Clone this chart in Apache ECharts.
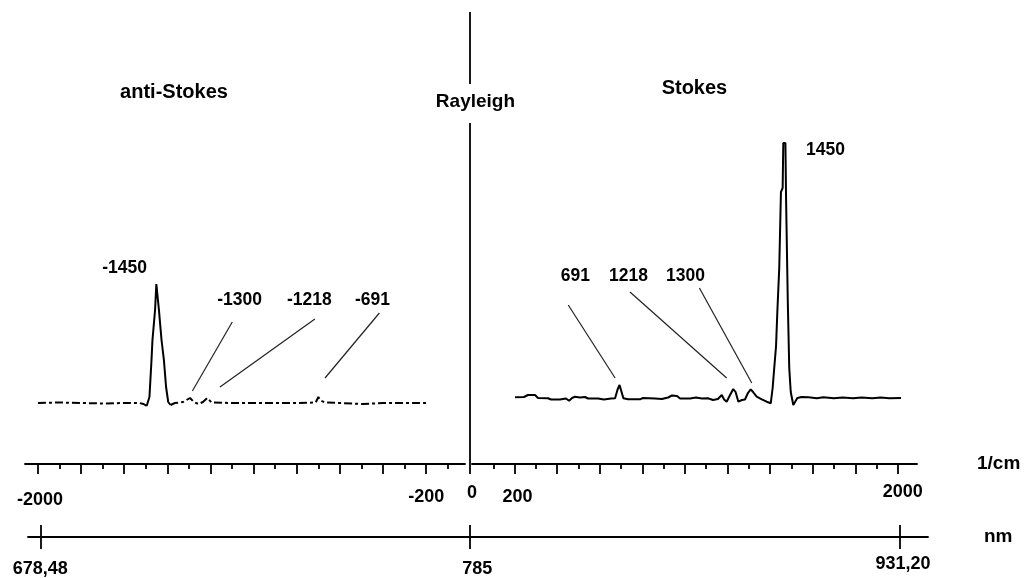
<!DOCTYPE html>
<html>
<head>
<meta charset="utf-8">
<title>Raman spectrum</title>
<script src="https://cdn.jsdelivr.net/npm/echarts@6/dist/echarts.min.js"></script>
<style>
    html, body { margin: 0; padding: 0; background: #fff; }
    #chart { width: 1030px; height: 578px; }
</style>
</head>
<body>
<div id="chart"></div>
<script>
// Raman shift (1/cm) and intensity (a.u.)
const antiStokesShift = [-2000, -1900, -1800, -1700, -1600, -1530, -1510, -1496, -1483, -1474,
    -1469, -1457, -1451, -1445, -1439, -1427, -1416, -1406, -1396, -1385,
    -1365, -1340, -1327, -1295, -1277, -1256, -1235, -1215, -1195, -1187,
    -1100, -1000, -900, -800, -712, -700, -690, -669, -600, -494, -400, -300, -200];
const antiStokesIntensity = [61, 61.5, 61, 60.5, 61, 61, 60, 58, 67, 102,
    124, 154, 180, 180, 154, 124, 104, 77, 62, 59,
    61, 61.5, 62, 66, 62, 60, 62, 66, 61.5, 61,
    61, 61, 61, 61, 61.5, 67, 63.5, 61.5, 61, 60, 61, 61, 61];

const stokesShift = [202, 244, 263, 296, 310, 357, 371, 413, 441, 456,
    470, 484, 507, 531, 545, 592, 620, 653, 672, 683,
    693, 700, 711, 733, 789, 803, 859, 892, 921, 939,
    963, 977, 1024, 1052, 1080, 1108, 1132, 1155, 1173, 1184,
    1196, 1212, 1227, 1238, 1251, 1268, 1282, 1296, 1309, 1320,
    1337, 1361, 1384, 1403, 1412, 1418, 1428, 1434, 1443, 1451,
    1459, 1462, 1472, 1475, 1483, 1490, 1497, 1509, 1528, 1548,
    1580, 1620, 1650, 1700, 1740, 1790, 1830, 1880, 1920, 1960, 2015];
const stokesIntensity = [66.7, 67, 69, 69, 66, 65.7, 64.5, 64.5, 65.5, 63.3,
    66, 67.3, 66.5, 67, 65.5, 65.5, 64.5, 65.5, 65.7, 74,
    79, 78, 65.7, 64.7, 64.7, 66, 65.5, 65, 66.5, 68.5,
    68, 65.5, 65.5, 66.5, 65.5, 65.7, 64, 65, 69, 64.5,
    62.3, 69, 75, 72, 62.3, 64, 64.5, 71, 74.7, 72,
    67.3, 64.7, 62.3, 60.7, 76, 92, 118, 152, 196, 272,
    276, 321, 321, 266, 164, 96, 72, 59, 66, 67,
    66.7, 65.7, 66.7, 65.7, 66.5, 65.7, 66.6, 65.8, 66.6, 65.8, 66];

// the big anti-Stokes band is drawn solid, the rest of that trace dash-dot
const antiStokesBand = [-1496, -1385];

// peak names, where their labels sit and the leader lines to the small peaks
const antiStokesPeaks = ['-1450', '-1300', '-1218', '-691'];
const antiStokesLabelAt = [[-1596, 195], [-1063, 163], [-739, 163], [-447, 163]];
const antiStokesLeaders = [
    [[-1099, 142], [-1284, 73]],
    [[-716, 145], [-1156, 77]],
    [[-417, 151], [-669, 86]]
];
const stokesPeaks = ['1450', '691', '1218', '1300'];
const stokesLabelAt = [[1663, 313], [488, 187], [737, 187], [1005, 187]];
const stokesLeaders = [
    [[452, 159], [672, 86]],
    [[742, 172], [1196, 86]],
    [[1068, 176], [1314, 81]]
];

// axis ticks (1/cm) and the matching wavelength labels
const leftMajorTicks = [-2000, -1800, -1600, -1400, -1200, -1000, -800, -600, -400, -200];
const leftMinorTicks = [-1900, -1700, -1500, -1300, -1100, -900, -700, -500, -300, -100];
const rightMajorTicks = [200, 400, 600, 800, 1000, 1200, 1400, 1600, 1800, 2000];
const rightMinorTicks = [100, 300, 500, 700, 900, 1100, 1300, 1500, 1700, 1900];
const leftShiftLabels = [-2000, -200];
const rightShiftLabels = [0, 200, 2000];
const nmTicks = [-2000, 0, 2000];
const nmLabels = ['678,48', '785', '931,20'];

// Rayleigh line (shift 0), broken where its caption sits
const rayleighLine = [[[0, 525], [0, 453]], [[0, 414], [0, 63]]];
const rayleighLabelAt = [27, 434.5];
const antiStokesTitleAt = [-1367, 371];
const stokesTitleAt = [1047, 375];

const FONT = "'Liberation Sans', Arial, sans-serif";
const INK = '#000';

const chart = echarts.init(document.getElementById('chart'));

const antiStokesData = antiStokesShift.map((x, i) => [x, antiStokesIntensity[i]]);
const bandData = antiStokesData.filter(p => p[0] >= antiStokesBand[0] && p[0] <= antiStokesBand[1]);
const dashData = antiStokesData.map(p => (p[0] > antiStokesBand[0] && p[0] < antiStokesBand[1]) ? [p[0], null] : p);
const stokesData = stokesShift.map((x, i) => [x, stokesIntensity[i]]);

const tickAxis = (grid, min, max, ticks, len, extra) => Object.assign({
    type: 'value', gridIndex: grid, min: min, max: max,
    position: 'bottom',
    axisLine: { show: false, onZero: false },
    axisTick: { show: true, customValues: ticks, length: len, lineStyle: { color: '#000', width: 1.8 } },
    axisLabel: { show: false },
    splitLine: { show: false }
}, extra || {});

const axisLineStyle = { show: true, onZero: false, lineStyle: { color: '#000', width: 1.8 } };
const labelText = { fontFamily: FONT, fontWeight: 'bold', fontSize: 18, color: INK };

const textSeries = (xi, yi, items, size) => ({
    type: 'scatter', xAxisIndex: xi, yAxisIndex: yi, silent: true,
    symbolSize: 1, itemStyle: { color: 'rgba(0,0,0,0)' },
    label: {
        show: true, position: [0, 0], align: 'center', verticalAlign: 'middle',
        formatter: '{b}', textBorderWidth: 0, opacity: 1,
        fontFamily: FONT, fontWeight: 'bold', fontSize: size, color: INK
    },
    data: items, z: 5
});

const leaderSeries = (xi, yi, segs) => ({
    type: 'lines', coordinateSystem: 'cartesian2d', xAxisIndex: xi, yAxisIndex: yi,
    silent: true, polyline: false,
    lineStyle: { color: '#222', width: 1.2, opacity: 1 },
    data: segs.map(s => ({ coords: s }))
});

chart.setOption({
    animation: false,
    backgroundColor: '#fff',
    grid: [
        { left: 25, top: 12, width: 440, height: 452 },
        { left: 472, top: 12, width: 445, height: 452 },
        { left: 28, top: 12, width: 900, height: 525 }
    ],
    xAxis: [
        tickAxis(0, -2060, -20, leftMajorTicks, 10, {
            axisLine: axisLineStyle,
            axisLabel: Object.assign({
                show: true, customValues: leftShiftLabels, margin: 24,
                formatter: v => v === -2000 ? '{a|' + v + '}' : '{n|' + v + '}',
                rich: { a: { padding: [3, 0, 0, 4] }, n: {} }
            }, labelText)
        }),
        tickAxis(0, -2060, -20, leftMinorTicks, 5),
        tickAxis(1, 0, 2090, rightMajorTicks, 10, {
            axisLine: axisLineStyle,
            axisLabel: Object.assign({
                show: true, customValues: rightShiftLabels, margin: 19,
                formatter: v => v === 0 ? '{z|0}' : v === 200 ? '{b|200}' : '{e|' + v + '}',
                rich: { z: { padding: [1, 0, 0, 0] }, b: { padding: [5, 0, 0, 6] }, e: { padding: [0, 0, 0, 10] } }
            }, labelText),
            name: '1/cm', nameLocation: 'end', nameGap: 60,
            nameTextStyle: { fontFamily: FONT, fontWeight: 'bold', fontSize: 19, color: INK, padding: [6, 0, 0, 0] }
        }),
        tickAxis(1, 0, 2090, rightMinorTicks, 5),
        tickAxis(2, -2057, 2130, nmTicks, 12, {
            axisLine: axisLineStyle,
            axisLabel: Object.assign({
                show: true, customValues: nmTicks, margin: 18,
                formatter: v => {
                    const i = nmTicks.indexOf(v);
                    if (i === 1) return '{m|' + nmLabels[i] + '}';
                    if (i === 2) return '{r|' + nmLabels[i] + '}';
                    return '{l|' + nmLabels[i] + '}';
                },
                rich: { l: { padding: [5, 0, 0, 0] }, m: { padding: [5, 0, 0, 14] }, r: { padding: [0, 0, 0, 6] } }
            }, labelText),
            name: 'nm', nameLocation: 'end', nameGap: 56,
            nameTextStyle: { fontFamily: FONT, fontWeight: 'bold', fontSize: 19, color: INK, padding: [0, 0, 4, 0] }
        }),
        tickAxis(2, -2057, 2130, nmTicks, 12, {
            axisTick: { show: true, inside: true, customValues: nmTicks, length: 12, lineStyle: { color: '#000', width: 1.8 } }
        })
    ],
    yAxis: [
        { type: 'value', gridIndex: 0, min: 0, max: 452, show: false },
        { type: 'value', gridIndex: 1, min: 0, max: 452, show: false },
        { type: 'value', gridIndex: 2, min: 0, max: 525, show: false }
    ],
    series: [
        {
            name: 'anti-Stokes', type: 'line', xAxisIndex: 0, yAxisIndex: 0,
            data: dashData, symbol: 'none', silent: true, connectNulls: false,
            lineStyle: { color: '#000', width: 2, type: [8, 3, 3, 3] }
        },
        {
            name: 'anti-Stokes band', type: 'line', xAxisIndex: 0, yAxisIndex: 0,
            data: bandData, symbol: 'none', silent: true,
            lineStyle: { color: '#000', width: 2 }
        },
        {
            name: 'Stokes', type: 'line', xAxisIndex: 2, yAxisIndex: 1,
            data: stokesData, symbol: 'none', silent: true,
            lineStyle: { color: '#000', width: 2 }
        },
        leaderSeries(0, 0, antiStokesLeaders),
        leaderSeries(2, 1, stokesLeaders),
        {
            type: 'lines', coordinateSystem: 'cartesian2d', xAxisIndex: 4, yAxisIndex: 2,
            silent: true, polyline: false,
            lineStyle: { color: '#000', width: 1.8, opacity: 1 },
            data: rayleighLine.map(s => ({ coords: s }))
        },
        textSeries(0, 0, antiStokesPeaks.map((n, i) => ({ name: n, value: antiStokesLabelAt[i] })), 17.5),
        textSeries(2, 1, stokesPeaks.map((n, i) => ({ name: n, value: stokesLabelAt[i] })), 17.5),
        textSeries(0, 0, [{ name: 'anti-Stokes', value: antiStokesTitleAt }], 20),
        textSeries(2, 1, [{ name: 'Stokes', value: stokesTitleAt }], 20),
        textSeries(4, 2, [{ name: 'Rayleigh', value: rayleighLabelAt }], 19)
    ]
});

window.addEventListener('resize', () => chart.resize());
</script>
</body>
</html>
